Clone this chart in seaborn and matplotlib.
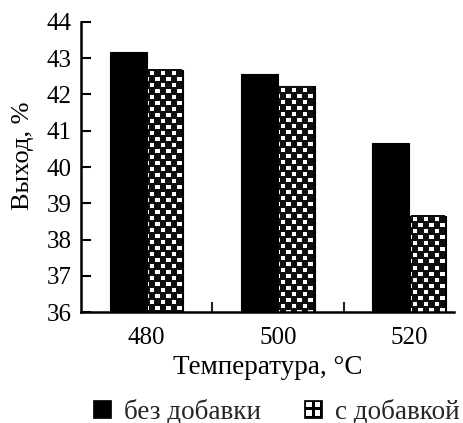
import matplotlib
matplotlib.use("Agg")
import matplotlib.pyplot as plt
import seaborn as sns
import pandas as pd
import numpy as np
from matplotlib.patches import Patch, Rectangle
from matplotlib.legend_handler import HandlerBase

temps = ["480", "500", "520"]
series = ["без добавки", "с добавкой"]
no_additive = [43.16, 42.56, 40.65]
with_additive = [42.68, 42.23, 38.65]
yticks = [36, 37, 38, 39, 40, 41, 42, 43, 44]

sns.set_theme(style="ticks")
plt.rcParams['font.family'] = ['Liberation Serif', 'DejaVu Serif']

df = pd.DataFrame({
    "temp": temps * 2,
    "series": [series[0]] * 3 + [series[1]] * 3,
    "value": no_additive + with_additive,
})

fig = plt.figure(figsize=(4.64, 4.23), dpi=100)
ax = fig.add_axes([0.1746, 0.2624, 0.8034, 0.6856])

sns.barplot(data=df, x="temp", y="value", hue="series", hue_order=series,
            palette=["black", "black"], width=0.56, gap=0, saturation=1,
            ax=ax, legend=False)

YMIN, YMAX = 36, 44
ax.set_ylim(YMIN, YMAX)
ax.set_xlim(-0.5, 2.34)

# checkerboard texture for the second series, laid over each bar's visible part
bars = list(ax.patches)
for i, p in enumerate(bars):
    p.set_edgecolor("black")
    p.set_linewidth(0.8)
    if i >= 3:
        x0, w = p.get_x(), p.get_width()
        top = p.get_y() + p.get_height()
        bot = max(p.get_y(), YMIN)
        (px0, py0) = ax.transData.transform((x0, bot))
        (px1, py1) = ax.transData.transform((x0 + w, top))
        wpx = max(int(round(abs(px1 - px0))), 1)
        hpx = max(int(round(abs(py1 - py0))), 1)
        rr, cc = np.mgrid[0:hpx, 0:wpx]
        shift = ((rr // 6) % 2) * 6
        board = ((rr % 6) >= 2) & (((cc + shift) % 12) >= 2) & (((cc + shift) % 12) <= 6)
        img = np.where(board, 1.0, 0.06)
        ax.imshow(img, cmap="gray", vmin=0, vmax=1,
                  extent=(x0 + w * 0.04, x0 + w * 0.96, bot, top),
                  origin="upper", interpolation="nearest", aspect="auto",
                  zorder=p.get_zorder() + 0.1)

ax.set_ylim(YMIN, YMAX)
ax.set_xlim(-0.5, 2.34)
ax.set_yticks(yticks)
ax.tick_params(axis='y', direction='in', length=7, width=1.5, labelsize=18, pad=7, colors='black')
ax.tick_params(axis='x', which='major', length=0, labelsize=18, pad=11, colors='black')
ax.set_xticks([0.5, 1.5], minor=True)
ax.tick_params(axis='x', which='minor', direction='in', length=7, width=1.5)
for s in ["left", "bottom"]:
    ax.spines[s].set_linewidth(1.8)
    ax.spines[s].set_color("black")
    ax.spines[s].set_zorder(5)
sns.despine(ax=ax)

ax.set_xlabel("Температура, °C", fontsize=19.5, color='black', labelpad=4)
ax.set_ylabel("Выход, %", fontsize=19, color='black')
ax.yaxis.set_label_coords(-0.125, 0.54)


class CheckerHandler(HandlerBase):
    def create_artists(self, legend, orig_handle, xdescent, ydescent,
                       width, height, fontsize, trans):
        side = min(width, height * 1.1)
        x0, y0 = -xdescent, -ydescent
        arts = [Rectangle((x0, y0), side, side, facecolor="black", edgecolor="black", lw=0.5, transform=trans)]
        s = side * 0.3
        g = side * 0.12
        for (cx, cy) in [(g, g), (side - g - s, g), (g, side - g - s), (side - g - s, side - g - s)]:
            arts.append(Rectangle((x0 + cx, y0 + cy), s, s, facecolor="white", edgecolor="none", transform=trans))
        return arts


class SolidHandler(HandlerBase):
    def create_artists(self, legend, orig_handle, xdescent, ydescent,
                       width, height, fontsize, trans):
        side = min(width, height * 1.1)
        return [Rectangle((-xdescent, -ydescent), side, side, facecolor="black",
                          edgecolor="black", lw=0.5, transform=trans)]


h_solid = Patch(facecolor="black")
h_check = Patch(facecolor="gray")
fig.legend([h_solid, h_check], series, loc="center", bbox_to_anchor=(0.595, 0.027), ncol=2,
           frameon=False, fontsize=19.5, handlelength=0.68, handleheight=0.68,
           handletextpad=0.45, columnspacing=1.6,
           handler_map={h_solid: SolidHandler(), h_check: CheckerHandler()})

fig.savefig("out.png", dpi=100)
